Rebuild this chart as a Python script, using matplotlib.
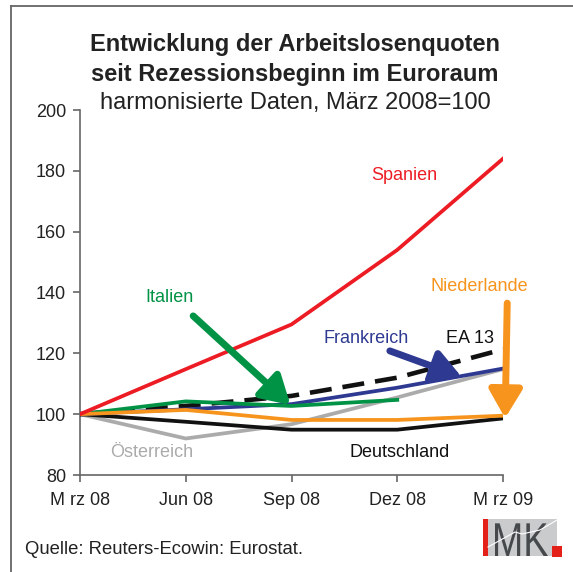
import matplotlib
matplotlib.use('Agg')
import matplotlib.pyplot as plt
from matplotlib.patches import Rectangle, PathPatch
from matplotlib.lines import Line2D
from matplotlib.textpath import TextPath
from matplotlib.font_manager import FontProperties
from matplotlib.transforms import Affine2D, IdentityTransform

plt.rcParams['font.family'] = ['Liberation Sans', 'DejaVu Sans']

# data, index Mrz 2008 = 100
months = ['M rz 08', 'Jun 08', 'Sep 08', 'Dez 08', 'M rz 09']
spanien = [100, 114.8, 129.5, 154, 184]
frankreich = [100, 101.6, 103.3, 108.7, 115]
ea13 = [100, 102.7, 106, 112, 121.3]
italien = [100, 104.2, 102.7, 104.7]
oesterreich = [100, 92, 96.7, 105.5, 114.8]
niederlande = [100, 101.4, 98.1, 98.1, 99.5]
deutschland = [100, 97.5, 94.9, 94.9, 98.6]

yticks = [80, 100, 120, 140, 160, 180, 200]

W, H = 573, 572
fig = plt.figure(figsize=(W / 100, H / 100), dpi=100)
ax = fig.add_axes([80 / W, 1 - 475 / H, 423 / W, 365 / H])

x = list(range(len(months)))
lw = 2.7
ax.plot(x, oesterreich, color='#ABABAB', lw=lw, zorder=2)
ax.plot(x, deutschland, color='#111111', lw=lw, zorder=3)
ax.plot(x, ea13, color='#111111', lw=3.3, dashes=(4.8, 2.4), zorder=4)
ax.plot(x, frankreich, color='#2E3A92', lw=lw, zorder=5)
ax.plot(x[:len(italien)], italien, color='#009245', lw=lw, zorder=6)
ax.plot(x, niederlande, color='#F7941D', lw=lw, zorder=7)
ax.plot(x, spanien, color='#ED1C24', lw=lw, zorder=8)

ax.set_xlim(0, 4)
ax.set_ylim(80, 200)
ax.set_xticks(x)
ax.set_xticklabels(months, fontsize=13, color='#222222')
ax.set_yticks(yticks)
ax.set_yticklabels([str(v) for v in yticks], fontsize=13, color='#222222')
for s in ['top', 'right']:
    ax.spines[s].set_visible(False)
for s in ['left', 'bottom']:
    ax.spines[s].set_color('#666666')
    ax.spines[s].set_linewidth(1.2)
ax.tick_params(axis='both', direction='out', length=5, color='#666666', width=1.2)
ax.tick_params(axis='x', pad=7)
ax.tick_params(axis='y', pad=5)

# arrows
def arrow(xy_from, xy_to, c):
    ax.annotate('', xy=xy_to, xytext=xy_from, annotation_clip=False,
                arrowprops=dict(arrowstyle='-|>,head_length=0.85,head_width=0.5',
                                lw=5, color=c, mutation_scale=20,
                                shrinkA=0, shrinkB=0), zorder=10)

arrow((1.07, 132.3), (1.99, 103), '#009245')
arrow((2.93, 120.8), (3.61, 112.2), '#2E3A92')
arrow((4.04, 136.5), (4.02, 98.7), '#F7941D')

# series labels
fs = 13
ax.text(3.07, 178.5, 'Spanien', color='#ED1C24', fontsize=fs, ha='center', va='center')
ax.text(0.85, 138.3, 'Italien', color='#009245', fontsize=fs, ha='center', va='center')
ax.text(2.71, 124.8, 'Frankreich', color='#2E3A92', fontsize=fs, ha='center', va='center')
ax.text(3.69, 124.8, 'EA 13', color='#111111', fontsize=fs, ha='center', va='center')
ax.text(3.78, 142, 'Niederlande', color='#F7941D', fontsize=fs, ha='center', va='center', clip_on=False)
ax.text(0.68, 87.3, 'Österreich', color='#ABABAB', fontsize=fs, ha='center', va='center')
ax.text(3.02, 87.3, 'Deutschland', color='#111111', fontsize=fs, ha='center', va='center')

# titles
fig.text(295 / W, 1 - 45 / H, 'Entwicklung der Arbeitslosenquoten', fontsize=17,
         fontweight='bold', ha='center', va='center', color='#222222')
fig.text(295 / W, 1 - 74 / H, 'seit Rezessionsbeginn im Euroraum', fontsize=17,
         fontweight='bold', ha='center', va='center', color='#222222')
fig.text(295 / W, 1 - 103 / H, 'harmonisierte Daten, März 2008=100', fontsize=17,
         ha='center', va='center', color='#222222')

fig.text(25 / W, 1 - 549 / H, 'Quelle: Reuters-Ecowin: Eurostat.', fontsize=13.3,
         ha='left', va='center', color='#222222')

# frame
fig.add_artist(Line2D([11 / W, 11 / W], [0, 1 - 6 / H], color='#666666', lw=1.3))
fig.add_artist(Line2D([11 / W, 1], [1 - 6 / H, 1 - 6 / H], color='#666666', lw=1.3))

# IMK logo
def frect(x0, y0, x1, y1, c):
    fig.add_artist(Rectangle((x0 / W, 1 - y1 / H), (x1 - x0) / W, (y1 - y0) / H,
                             transform=fig.transFigure, color=c, lw=0))

frect(487, 519, 557, 556, '#C9CBCD')
frect(483, 519, 488, 556, '#E32119')
frect(552, 546, 562, 557, '#E32119')
fig.add_artist(Line2D([488 / W, 515 / W, 522 / W, 540 / W, 557 / W],
                      [1 - 547 / H, 1 - 532 / H, 1 - 534 / H, 1 - 530 / H, 1 - 520 / H],
                      color='white', lw=0.8))
tp = TextPath((0, 0), 'MK', size=1, prop=FontProperties(family='Liberation Sans'))
ext = tp.get_extents()
sx = 53 / ext.width
sy = 34 / 0.716
tr = Affine2D().translate(-ext.x0, 0).scale(sx, sy).translate(495, H - 556)
fig.add_artist(PathPatch(tp, transform=tr + IdentityTransform(), color='#45494C', lw=0))

fig.savefig('out.png', dpi=100)
